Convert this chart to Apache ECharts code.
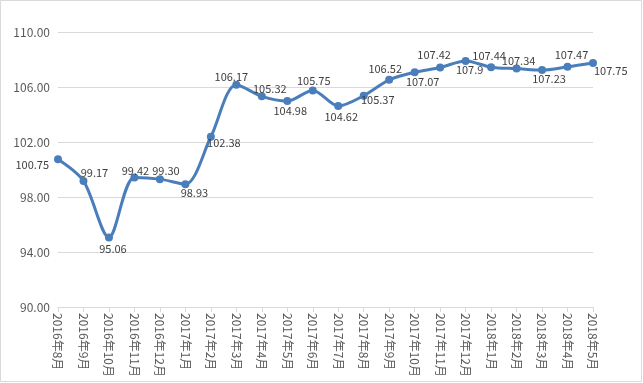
<!DOCTYPE html>
<html><head><meta charset="utf-8">
<script src="https://cdn.jsdelivr.net/npm/echarts@6/dist/echarts.min.js"></script>
<style>html,body{margin:0;padding:0;background:#fff}#c{width:643px;height:383px}</style>
</head><body><div id="c"></div>
<script>
const categories = ['2016年8月','2016年9月','2016年10月','2016年11月','2016年12月','2017年1月','2017年2月','2017年3月','2017年4月','2017年5月','2017年6月','2017年7月','2017年8月','2017年9月','2017年10月','2017年11月','2017年12月','2018年1月','2018年2月','2018年3月','2018年4月','2018年5月'];
const values = [100.75,99.17,95.06,99.42,99.30,98.93,102.38,106.17,105.32,104.98,105.75,104.62,105.37,106.52,107.07,107.42,107.9,107.44,107.34,107.23,107.47,107.75];
const labelTexts = ['100.75','99.17','95.06','99.42','99.30','98.93','102.38','106.17','105.32','104.98','105.75','104.62','105.37','106.52','107.07','107.42','107.9','107.44','107.34','107.23','107.47','107.75'];
const yTicks = {min: 90, max: 110, interval: 4};
// label placement per point (position, offset)
const labelPlace = [
 ['left',[0,6]],['top',[11,6]],['bottom',[4,-3]],['top',[1,8]],['top',[6,6]],['bottom',[9,-6]],
 ['bottom',[13,-8.5]],['top',[-5,6.5]],['top',[8,6.5]],['bottom',[3,-4.5]],['top',[1,4.5]],['bottom',[3,-3.5]],
 ['bottom',[14,-10]],['top',[-4,3]],['bottom',[8,-5]],['top',[-6,2]],['bottom',[4,-5.5]],['top',[-2,3.5]],
 ['top',[2,7]],['bottom',[7,-5.5]],['top',[4,2.5]],['right',[-8,8]]
];
const font = "'Noto Sans CJK SC', 'Liberation Sans', sans-serif";
const data = values.map((v,i)=>({value:v,label:{position:labelPlace[i][0],offset:labelPlace[i][1],formatter:labelTexts[i]}}));
const chart = echarts.init(document.getElementById('c'));
chart.setOption({
  animation:false,
  textStyle:{fontFamily:font},
  graphic:[{type:'rect',shape:{x:0.5,y:0.5,width:641,height:381},style:{fill:'none',stroke:'#d9d9d9',lineWidth:1},silent:true}],
  grid:{left:58,right:50,top:32,bottom:76,containLabel:false},
  xAxis:{type:'category',data:categories,boundaryGap:false,
    axisLine:{lineStyle:{color:'#d9d9d9'}},
    axisTick:{show:true,length:5,lineStyle:{color:'#d9d9d9'}},
    axisLabel:{rotate:-90,color:'#595959',fontSize:12,fontFamily:font,margin:6,interval:0}},
  yAxis:{type:'value',min:yTicks.min,max:yTicks.max,interval:yTicks.interval,
    axisLine:{show:false},axisTick:{show:false},
    splitLine:{lineStyle:{color:'#d9d9d9'}},
    axisLabel:{color:'#595959',fontSize:12,fontFamily:font,margin:8,formatter:v=>v.toFixed(2)}},
  series:[{type:'line',data:data,smooth:0.3,symbol:'circle',symbolSize:8,
    lineStyle:{color:'#4a7ebb',width:3},itemStyle:{color:'#4a7ebb'},
    label:{show:true,color:'#404040',fontSize:11,fontFamily:font,distance:5}}]
});
</script></body></html>
